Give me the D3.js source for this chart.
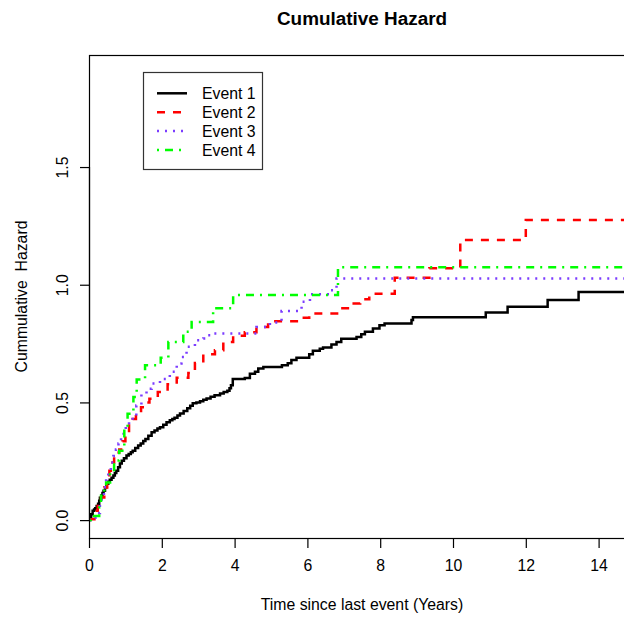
<!DOCTYPE html>
<html>
<head>
<meta charset="utf-8">
<script src="https://cdn.jsdelivr.net/npm/d3@7"></script>
<style>
  body { margin: 0; background: #fff; }
  svg { display: block; font-family: "Liberation Sans", Arial, sans-serif; }
</style>
</head>
<body>
<svg id="viz" width="624" height="619"></svg>
<script>
// step points: time (years) and cumulative hazard after each jump
var e1Time = [0, 0.03, 0.06, 0.1, 0.14, 0.17, 0.21, 0.25, 0.28, 0.3, 0.34, 0.37, 0.4, 0.44, 0.48, 0.53, 0.57, 0.62, 0.67, 0.71, 0.75, 0.8, 0.85, 0.9, 0.96, 1.03, 1.09, 1.15, 1.2, 1.27, 1.35, 1.42, 1.49, 1.55, 1.63, 1.72, 1.8, 1.88, 1.95, 2.04, 2.13, 2.22, 2.29, 2.35, 2.43, 2.5, 2.6, 2.7, 2.78, 2.85, 2.95, 3.05, 3.14, 3.23, 3.34, 3.45, 3.6, 3.7, 3.8, 3.86, 3.9, 3.95, 4.28, 4.42, 4.56, 4.65, 4.79, 5.3, 5.46, 5.56, 5.7, 6.05, 6.15, 6.34, 6.43, 6.66, 6.8, 6.93, 7.35, 7.48, 7.58, 7.8, 7.98, 8.12, 8.86, 8.9, 10.9, 11.5, 12.6, 13.45, 15];
var e1Haz  = [0, 0.012, 0.025, 0.04, 0.045, 0.05, 0.06, 0.07, 0.082, 0.095, 0.105, 0.115, 0.125, 0.14, 0.155, 0.163, 0.172, 0.18, 0.19, 0.2, 0.21, 0.225, 0.24, 0.252, 0.263, 0.274, 0.281, 0.288, 0.295, 0.306, 0.317, 0.326, 0.336, 0.345, 0.358, 0.373, 0.381, 0.389, 0.395, 0.405, 0.416, 0.424, 0.43, 0.435, 0.444, 0.453, 0.464, 0.475, 0.486, 0.496, 0.5, 0.505, 0.511, 0.517, 0.524, 0.53, 0.538, 0.544, 0.55, 0.56, 0.573, 0.6, 0.604, 0.622, 0.63, 0.644, 0.65, 0.658, 0.666, 0.68, 0.69, 0.705, 0.72, 0.728, 0.733, 0.746, 0.757, 0.77, 0.778, 0.79, 0.8, 0.814, 0.828, 0.835, 0.85, 0.862, 0.882, 0.906, 0.935, 0.969, 0.969];

var e2Time = [0, 0.01, 0.15, 0.24, 0.33, 0.42, 0.5, 0.56, 0.6, 0.69, 0.76, 0.83, 0.92, 1.0, 1.1, 1.2, 1.29, 1.43, 1.55, 1.66, 1.89, 2.16, 2.41, 2.73, 2.91, 3.14, 3.46, 3.69, 3.96, 4.28, 4.6, 4.92, 5.85, 6.05, 6.85, 7.15, 7.45, 7.7, 8.4, 9.35, 10.2, 12.0, 15];
var e2Haz  = [0, 0.004, 0.04, 0.07, 0.096, 0.139, 0.18, 0.21, 0.245, 0.274, 0.287, 0.3, 0.335, 0.366, 0.41, 0.43, 0.452, 0.48, 0.5, 0.516, 0.544, 0.577, 0.605, 0.625, 0.667, 0.705, 0.722, 0.757, 0.783, 0.798, 0.82, 0.845, 0.86, 0.878, 0.9, 0.92, 0.938, 0.962, 1.03, 1.07, 1.19, 1.275, 1.275];

var e3Time = [0, 0.05, 0.24, 0.3, 0.35, 0.41, 0.47, 0.53, 0.6, 0.67, 0.74, 0.81, 0.88, 0.95, 1.01, 1.1, 1.2, 1.3, 1.44, 1.58, 1.72, 1.95, 2.13, 2.22, 2.41, 2.54, 2.68, 2.91, 3.14, 3.23, 3.41, 4.6, 4.97, 5.29, 5.84, 6.07, 6.6, 6.8, 15];
var e3Haz  = [0, 0.01, 0.03, 0.065, 0.1, 0.14, 0.175, 0.21, 0.245, 0.272, 0.3, 0.325, 0.35, 0.375, 0.4, 0.42, 0.44, 0.487, 0.537, 0.558, 0.58, 0.6, 0.608, 0.63, 0.665, 0.693, 0.736, 0.764, 0.772, 0.785, 0.793, 0.82, 0.84, 0.888, 0.928, 0.96, 0.977, 1.027, 1.027];

var e4Time = [0, 0.05, 0.28, 0.33, 0.42, 0.47, 0.58, 0.69, 0.83, 0.97, 1.06, 1.22, 1.31, 1.54, 1.97, 2.18, 2.59, 2.82, 3.41, 3.96, 6.84, 15];
var e4Haz  = [0, 0.017, 0.054, 0.104, 0.139, 0.16, 0.205, 0.253, 0.295, 0.38, 0.452, 0.523, 0.597, 0.658, 0.69, 0.757, 0.8, 0.842, 0.9, 0.956, 1.074, 1.074];

var seriesNames = ["Event 1", "Event 2", "Event 3", "Event 4"];
var xTicks = [0, 2, 4, 6, 8, 10, 12, 14];
var yTicks = [0, 0.5, 1.0, 1.5];

(function () {
    'use strict';

    var svg = d3.select("#viz");
    var box = { left: 89, right: 635, top: 55, bottom: 538 }; // right edge falls outside the window
    var FONT = 15.8;

    var xScale = d3.scaleLinear().domain([0, 15]).range([box.left, box.right]),
        yScale = d3.scaleLinear().domain([-0.076, 1.976]).range([box.bottom, box.top]);

    var styles = [
        { color: "#000000", dash: null },
        { color: "#ff0000", dash: "8,8" },
        { color: "#7b3cff", dash: "2,6" },
        { color: "#00ff00", dash: "2,6,8,6" }
    ];
    var series = [[e1Time, e1Haz], [e2Time, e2Haz], [e3Time, e3Haz], [e4Time, e4Haz]].map(function (s, i) {
        return { name: seriesNames[i], pts: s[0].map(function (t, j) { return [t, s[1][j]]; }), style: styles[i] };
    });

    svg.append("defs").append("clipPath").attr("id", "plotclip")
        .append("rect")
        .attr("x", box.left).attr("y", box.top)
        .attr("width", box.right - box.left).attr("height", box.bottom - box.top);

    //CURVES
    var line = d3.line()
        .x(function (d) { return xScale(d[0]); })
        .y(function (d) { return yScale(d[1]); })
        .curve(d3.curveStepAfter);

    svg.append("g").attr("clip-path", "url(#plotclip)")
        .selectAll("path")
        .data(series)
        .enter()
        .append("path")
        .attr("d", function (d) { return line(d.pts); })
        .attr("fill", "none")
        .attr("stroke", function (d) { return d.style.color; })
        .attr("stroke-width", 2.5)
        .attr("stroke-dasharray", function (d) { return d.style.dash; });

    //BOX
    svg.append("rect")
        .attr("x", box.left + 0.5).attr("y", box.top + 0.5)
        .attr("width", box.right - box.left).attr("height", box.bottom - box.top)
        .attr("fill", "none").attr("stroke", "#000").attr("stroke-width", 1.2);

    //AXES
    var xAxis = d3.axisBottom(xScale).tickValues(xTicks).tickSize(9.5).tickPadding(12).tickSizeOuter(0);
    var gx = svg.append("g")
        .attr("transform", "translate(0," + (box.bottom + 0.5) + ")")
        .call(xAxis);
    gx.select(".domain").remove();
    gx.append("line")
        .attr("x1", xScale(xTicks[0])).attr("x2", xScale(xTicks[xTicks.length - 1]))
        .attr("stroke", "#000").attr("stroke-width", 1.2);
    gx.selectAll(".tick line").attr("stroke-width", 1.2);
    gx.selectAll("text").attr("font-size", FONT).attr("font-family", null).attr("fill", "#000");

    var yAxis = d3.axisLeft(yScale).tickValues(yTicks).tickSize(9.5).tickSizeOuter(0).tickFormat(d3.format(".1f"));
    var gy = svg.append("g")
        .attr("transform", "translate(" + (box.left + 0.5) + ",0)")
        .call(yAxis);
    gy.select(".domain").remove();
    gy.append("line")
        .attr("y1", yScale(yTicks[0])).attr("y2", yScale(yTicks[yTicks.length - 1]))
        .attr("stroke", "#000").attr("stroke-width", 1.2);
    gy.selectAll(".tick line").attr("stroke-width", 1.2);
    gy.selectAll("text")
        .attr("font-size", FONT).attr("font-family", null).attr("fill", "#000")
        .attr("x", null).attr("dy", null)
        .attr("transform", "translate(-22,0) rotate(-90)")
        .style("text-anchor", "middle");

    //TITLES
    svg.append("text")
        .attr("x", (box.left + box.right) / 2).attr("y", 25)
        .attr("text-anchor", "middle")
        .attr("font-size", 18.9).attr("font-weight", "bold")
        .text("Cumulative Hazard");
    svg.append("text")
        .attr("x", (box.left + box.right) / 2).attr("y", 610)
        .attr("text-anchor", "middle")
        .attr("font-size", FONT)
        .text("Time since last event (Years)");
    svg.append("text")
        .attr("transform", "translate(27," + ((box.top + box.bottom) / 2) + ") rotate(-90)")
        .attr("text-anchor", "middle")
        .attr("font-size", FONT)
        .style("white-space", "pre")
        .text("Cummulative  Hazard");

    //LEGEND
    var leg = svg.append("g").attr("transform", "translate(143,72)");
    leg.append("rect")
        .attr("x", 0.5).attr("y", 0.5).attr("width", 119).attr("height", 97)
        .attr("fill", "#fff").attr("stroke", "#333").attr("stroke-width", 1.2);
    var items = leg.selectAll(".item")
        .data(series)
        .enter()
        .append("g")
        .attr("class", "item")
        .attr("transform", function (d, i) { return "translate(0," + (21.3 + i * 18.9) + ")"; });
    items.append("line")
        .attr("x1", 14).attr("x2", 44)
        .attr("stroke", function (d) { return d.style.color; })
        .attr("stroke-width", 2.5)
        .attr("stroke-dasharray", function (d) { return d.style.dash; });
    items.append("text")
        .attr("x", 59).attr("dy", "0.35em")
        .attr("font-size", FONT)
        .text(function (d) { return d.name; });
}());
</script>
</body>
</html>
